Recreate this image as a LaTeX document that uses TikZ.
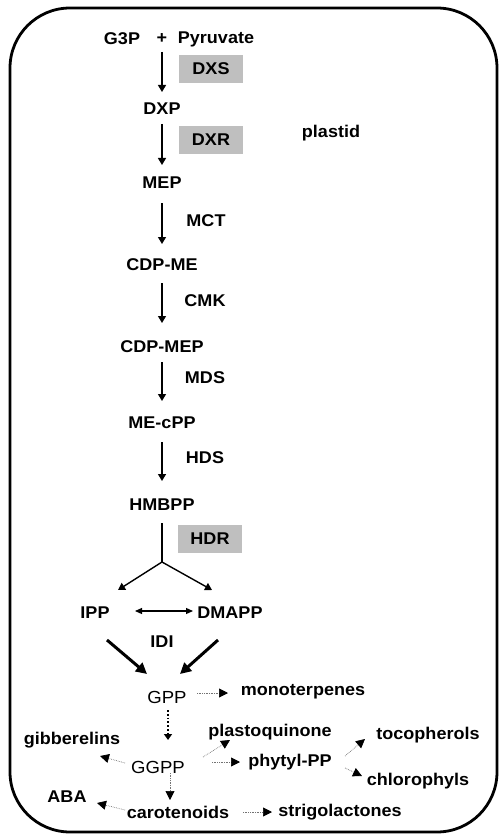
\documentclass[tikz,border=0pt]{standalone}
\usepackage{fontspec}
\setmainfont{Liberation Sans}[FakeStretch=1.06]
\usetikzlibrary{arrows.meta,calc}
\tikzset{
  lbl/.style={font=\bfseries\fontsize{17}{17}\selectfont, inner sep=0pt},
  reg/.style={font=\fontsize{17.5}{17.5}\selectfont, inner sep=0pt},
  enz/.style={lbl, fill=black!25, minimum width=64pt, minimum height=28pt},
  mainarr/.style={line width=1.4pt, -{Triangle[width=8pt,length=7pt]}},
  thickarr/.style={line width=3pt, -{Triangle[width=11pt,length=11pt]}},
  dblarr/.style={line width=1.2pt, {Triangle[width=6pt,length=7pt]}-{Triangle[width=6pt,length=7pt]}},
  dotarr/.style={line width=0.7pt, draw=black!55, densely dotted, -{Triangle[width=9pt,length=9pt,fill=black,color=black]}},
  dotarrb/.style={line width=1.8pt, dotted, -{Triangle[width=8pt,length=6pt]}},
}
\begin{document}
\begin{tikzpicture}[x=1pt,y=-1pt]
\useasboundingbox (0,0) rectangle (500,837);
\draw[line width=2.8pt, rounded corners=60pt] (10,8) rectangle (497,832);

\node[lbl] (g3p) at (122,39) {G3P};
\node[lbl] (plus) at (162,39) {+};
\node[lbl] (pyr) at (216,39) {Pyruvate};
\node[enz] (dxs) at (211,69) {DXS};
\node[lbl] (dxp) at (162,109) {DXP};
\node[enz] (dxr) at (211,140) {DXR};
\node[lbl] (plastid) at (331,133) {plastid};
\node[lbl] (mep) at (162,183) {MEP};
\node[lbl] (mct) at (206,221) {MCT};
\node[lbl] (cdpme) at (162,265) {CDP-ME};
\node[lbl] (cmk) at (205,301) {CMK};
\node[lbl] (cdpmep) at (162,347) {CDP-MEP};
\node[lbl] (mds) at (205,378) {MDS};
\node[lbl] (mecpp) at (162,423) {ME-cPP};
\node[lbl] (hds) at (205,458) {HDS};
\node[lbl] (hmbpp) at (162,505) {HMBPP};
\node[enz] (hdr) at (210,539) {HDR};
\coordinate (br) at (162,562);
\node[lbl] (ipp) at (95,613) {IPP};
\node[lbl] (dmapp) at (230,613) {DMAPP};
\node[lbl] (idi) at (162,642) {IDI};
\node[reg] (gpp) at (167,697) {GPP};
\node[lbl] (mono) at (303,692) {monoterpenes};
\node[reg] (ggpp) at (158,767) {GGPP};
\node[lbl] (gib) at (72,740) {gibberelins};
\node[lbl] (plasto) at (270,732) {plastoquinone};
\node[lbl] (phytyl) at (290,762) {phytyl-PP};
\node[lbl] (toco) at (428,735) {tocopherols};
\node[lbl] (chloro) at (418,781) {chlorophyls};
\node[lbl] (carot) at (178,812) {carotenoids};
\node[lbl] (aba) at (67,797) {ABA};
\node[lbl] (strig) at (340,812) {strigolactones};

% main pathway
\draw[mainarr] ($(plus)+(0,13)$) -- ($(dxp)+(0,-17)$);
\draw[mainarr] ($(dxp)+(0,15)$) -- ($(mep)+(0,-18)$);
\draw[mainarr] ($(mep)+(0,20)$) -- ($(cdpme)+(0,-21)$);
\draw[mainarr] ($(cdpme)+(0,18)$) -- ($(cdpmep)+(0,-24)$);
\draw[mainarr] ($(cdpmep)+(0,15)$) -- ($(mecpp)+(0,-22)$);
\draw[mainarr] ($(mecpp)+(0,19)$) -- ($(hmbpp)+(0,-24)$);
\draw[line width=1.4pt] ($(hmbpp)+(0,18)$) -- (br);
\draw[mainarr] (br) -- ($(ipp)+(23,-23)$);
\draw[mainarr] (br) -- ($(dmapp)+(-18,-23)$);
\draw[dblarr] ($(ipp)+(40,-2)$) -- ($(dmapp)+(-37,-2)$);
\draw[thickarr] ($(ipp)+(12,27)$) -- ($(gpp)+(-20,-23)$);
\draw[thickarr] ($(dmapp)+(-12,27)$) -- ($(gpp)+(13,-23)$);

% downstream
\draw[dotarr] ($(gpp)+(30,-4)$) -- ($(mono)+(-75,1)$);
\draw[dotarrb] ($(gpp)+(1,13)$) -- ($(ggpp)+(10,-27)$);
\draw[dotarr] ($(ggpp)+(-33,-4)$) -- ($(gib)+(28,16)$);
\draw[dotarr] ($(ggpp)+(45,-10)$) -- ($(plasto)+(-40,8)$);
\draw[dotarr] ($(ggpp)+(54,-5)$) -- ($(phytyl)+(-50,0)$);
\draw[dotarr] ($(phytyl)+(55,-6)$) -- ($(toco)+(-63,4)$);
\draw[dotarr] ($(phytyl)+(55,6)$) -- ($(chloro)+(-56,-5)$);
\draw[dotarr] ($(ggpp)+(12,6)$) -- ($(carot)+(-8,-12)$);
\draw[dotarr] ($(carot)+(-53,-2)$) -- ($(aba)+(30,6)$);
\draw[dotarr] ($(carot)+(65,0)$) -- ($(strig)+(-68,0)$);
\end{tikzpicture}
\end{document}
